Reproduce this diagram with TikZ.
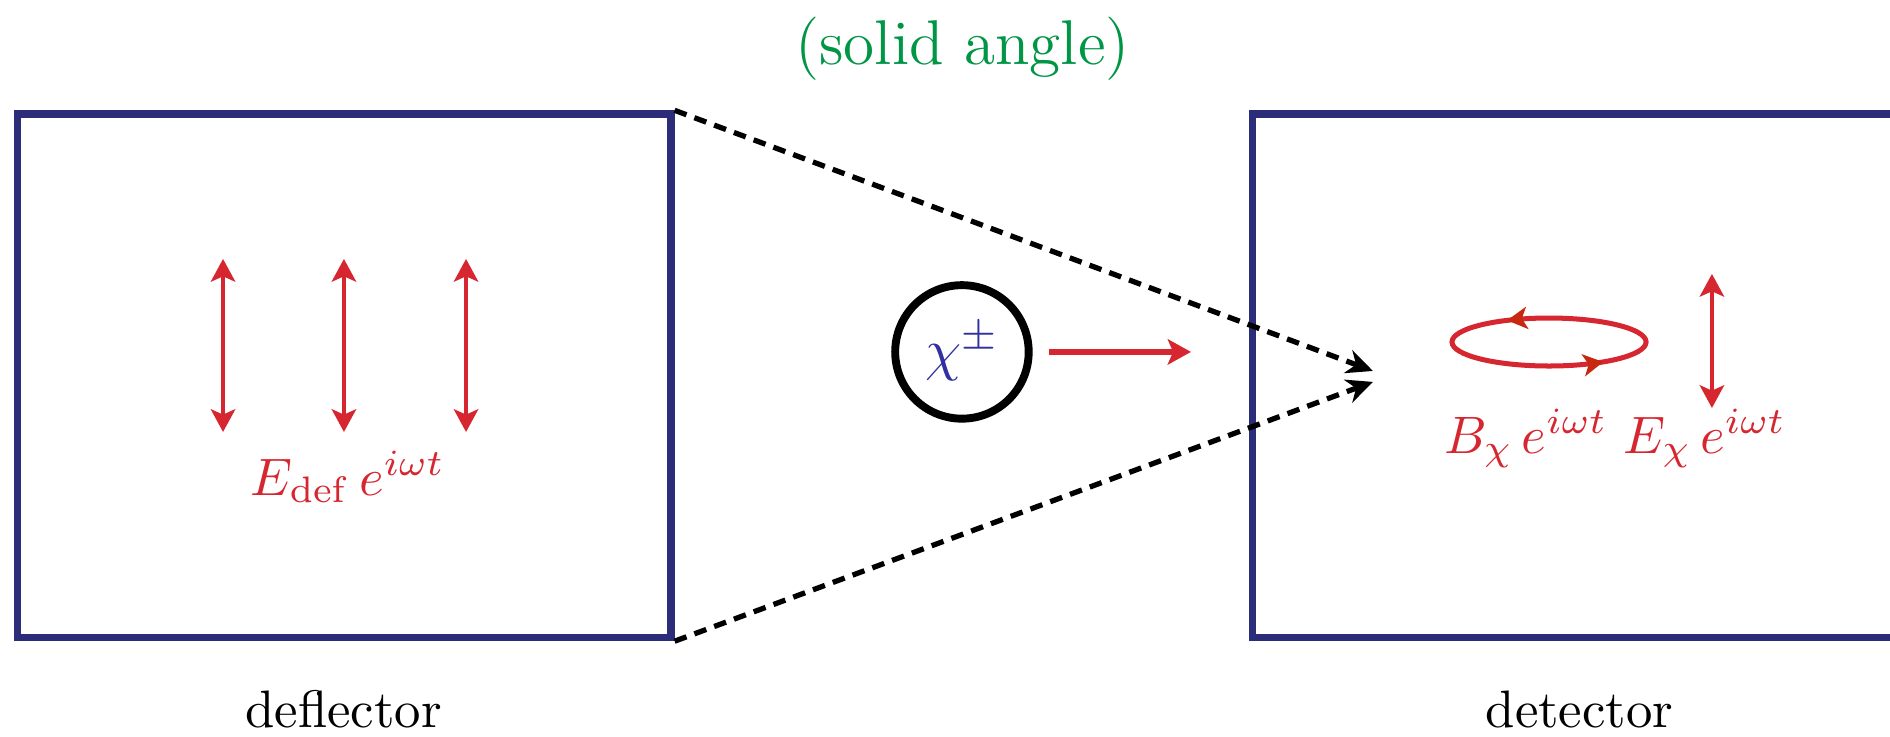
\documentclass[tikz,border=0pt]{standalone}
\usepackage{amsmath,amssymb}
\usepackage{xcolor}
\usepackage{tikz}
\usetikzlibrary{positioning,arrows.meta,calc,decorations.markings}
\definecolor{plateblue}{RGB}{43,45,120}
\definecolor{fieldred}{RGB}{214,38,48}
\definecolor{loopred}{RGB}{200,40,15}
\definecolor{chiblue}{RGB}{48,48,160}
\definecolor{anglegreen}{RGB}{0,150,70}
\tikzset{
  plate/.style={rectangle, draw=plateblue, line width=1.4pt, minimum width=4.356cm, minimum height=3.49cm, inner sep=0pt},
  efield/.style={{Stealth[length=4.3pt,width=4.6pt,inset=1pt]}-{Stealth[length=4.3pt,width=4.6pt,inset=1pt]}, line width=0.8pt, color=fieldred},
  flight/.style={-{Stealth[length=4.4pt,width=4.8pt,inset=1pt]}, line width=1pt, color=fieldred},
  cone/.style={-{Stealth[length=5pt,width=4.6pt,inset=1.6pt]}, line width=1pt, dash pattern=on 2.4pt off 1.6pt},
  particle/.style={circle, draw, line width=1.5pt, minimum size=0.89cm, inner sep=0pt, text=chiblue, font=\fontsize{11pt}{13pt}\selectfont},
  lbl/.style={anchor=base, text=fieldred}
}

\begin{document}
\begin{tikzpicture}[>=Stealth]
\useasboundingbox (0,0) rectangle (12.6,4.913);
\clip (0,0) rectangle (12.6,4.913);
\node[plate] (defl) at (2.295,2.408) {};
\node[plate] (dete) at (10.53,2.408) {};
\node[anchor=base] (deflname) at (2.29,0.06) {deflector};
\node[anchor=base] (detename) at (10.53,0.06) {detector};
\node[anchor=base, text=anglegreen, font=\large] (solid) at (6.417,4.48) {(solid angle)};
% deflector field
\foreach \ex in {1.487,2.293,3.107}
  \draw[efield] (\ex,3.187) -- (\ex,2.033);
\node[lbl] (edef) at (2.32,1.613) {$E_{\mathrm{def}}\,e^{i\omega t}$};
% particle
\node[particle] (chi) at (6.413,2.567) {$\chi^{\pm}$};
\coordinate (chihead) at (7.94,2.567);
\draw[flight, shorten <=0.11cm] (chi.east) -- (chihead);
\coordinate (tipup) at (9.153,2.44);
\coordinate (tipdn) at (9.153,2.367);
\draw[cone] (defl.north east) -- (tipup);
\draw[cone] (defl.south east) -- (tipdn);
% detector fields
\draw[line width=0.95pt, color=fieldred, postaction={decorate}, decoration={markings,
    mark=at position 0.351 with {\arrow[loopred]{Stealth[length=3.8pt,width=4.2pt,inset=1pt]}},
    mark=at position 0.881 with {\arrow[loopred]{Stealth[length=3.8pt,width=4.2pt,inset=1pt]}}}]
  (10.327,2.633) ellipse [x radius=0.647, y radius=0.16];
\draw[efield] (11.413,3.087) -- (11.413,2.193);
\node[lbl] (bchi) at (10.173,1.893) {$B_{\chi}\,e^{i\omega t}$};
\node[lbl] (echi) at (11.367,1.893) {$E_{\chi}\,e^{i\omega t}$};
\end{tikzpicture}
\end{document}
